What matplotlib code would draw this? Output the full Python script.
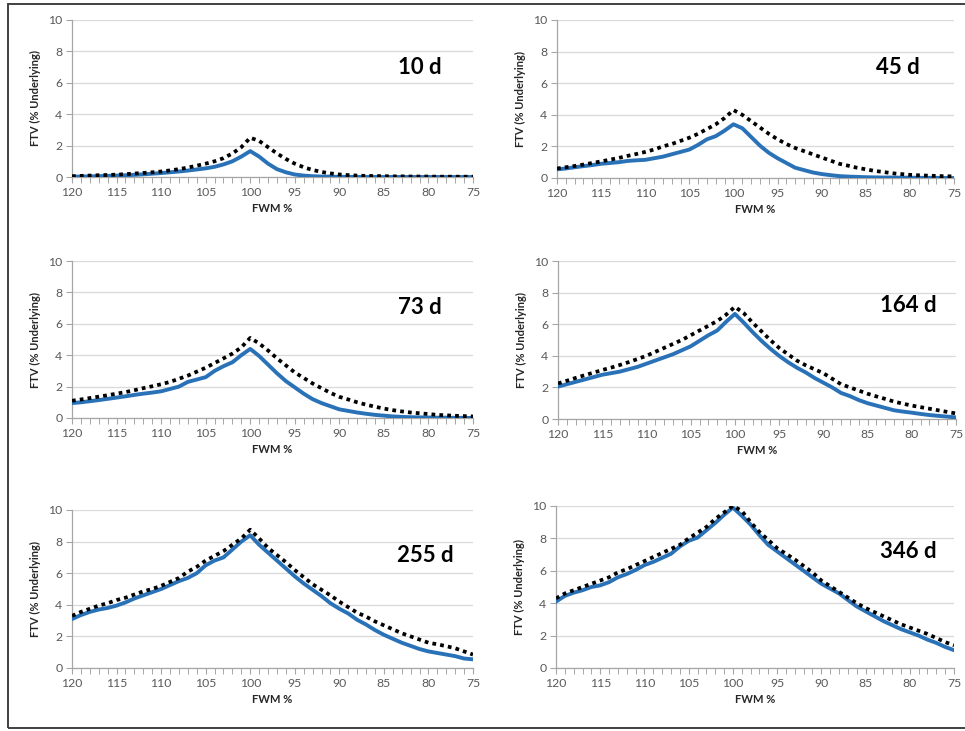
import matplotlib
matplotlib.use("Agg")
import matplotlib.pyplot as plt
import numpy as np
from matplotlib.patches import Rectangle
from matplotlib.ticker import MultipleLocator

plt.rcParams['font.family'] = ['Lato', 'DejaVu Sans']

fwm = list(range(120, 74, -1))  # 120 ... 75
xtick_labels = [120, 115, 110, 105, 100, 95, 90, 85, 80, 75]
yticks = [0, 2, 4, 6, 8, 10]
panel_titles = ["10 d", "45 d", "73 d", "164 d", "255 d", "346 d"]

d10_dotted = [0.05,0.07,0.09,0.11,0.13, 0.15,0.18,0.22,0.26,0.30, 0.35,0.42,0.50,0.60,0.72,
              0.85,1.0,1.2,1.5,1.9, 2.5, 2.3,1.9,1.5,1.15,0.85, 0.62,0.45,0.32,0.23,0.16,
              0.12,0.09,0.07,0.06,0.05, 0.04,0.04,0.03,0.03,0.03, 0.02,0.02,0.02,0.02,0.02]
d10_solid = [0.02,0.03,0.04,0.05,0.07, 0.09,0.11,0.14,0.17,0.21, 0.25,0.30,0.35,0.41,0.48,
             0.55,0.65,0.80,1.0,1.3, 1.65, 1.3,0.85,0.5,0.3,0.16, 0.09,0.05,0.03,0.02,0.01,
             0.01,0,0,0,0, 0,0,0,0,0, 0,0,0,0,0]

d45_dotted = [0.6,0.68,0.76,0.85,0.95, 1.05,1.16,1.27,1.4,1.52, 1.65,1.8,2.0,2.15,2.35,
              2.55,2.8,3.1,3.4,3.8, 4.3, 4.0,3.6,3.2,2.8,2.45, 2.15,1.9,1.7,1.5,1.3,
              1.1,0.9,0.78,0.65,0.55, 0.45,0.38,0.3,0.25,0.2, 0.17,0.15,0.13,0.11,0.1]
d45_solid = [0.55,0.6,0.68,0.75,0.82, 0.9,0.95,1.0,1.08,1.12, 1.15,1.25,1.35,1.5,1.65,
             1.8,2.1,2.45,2.65,3.0, 3.4, 3.15,2.6,2.05,1.6,1.25, 0.95,0.65,0.5,0.35,0.25,
             0.18,0.12,0.09,0.07,0.05, 0.04,0.03,0.03,0.02,0.02, 0.01,0.01,0.01,0,0]

d73_dotted = [1.1,1.18,1.27,1.36,1.45, 1.55,1.65,1.77,1.9,2.02, 2.15,2.3,2.5,2.7,2.95,
              3.2,3.5,3.8,4.1,4.5, 5.1, 4.75,4.3,3.8,3.35,2.9, 2.55,2.2,1.9,1.6,1.35,
              1.18,1.0,0.85,0.72,0.6, 0.5,0.42,0.35,0.3,0.25, 0.2,0.17,0.14,0.12,0.1]
d73_solid = [0.95,1.0,1.07,1.14,1.22, 1.3,1.38,1.47,1.55,1.62, 1.7,1.85,2.0,2.3,2.45,
             2.6,3.0,3.3,3.55,4.0, 4.4, 3.95,3.4,2.85,2.35,1.95, 1.55,1.2,0.95,0.75,0.55,
             0.45,0.35,0.27,0.2,0.15, 0.1,0.07,0.05,0.04,0.03, 0.02,0.02,0.01,0.01,0.0]

d164_dotted = [2.25,2.42,2.6,2.77,2.93, 3.1,3.25,3.42,3.6,3.8, 4.0,4.25,4.5,4.75,5.0,
               5.3,5.6,5.9,6.2,6.6, 7.1, 6.7,6.1,5.55,5.0,4.5, 4.1,3.7,3.4,3.15,2.9,
               2.55,2.2,2.0,1.8,1.6, 1.43,1.27,1.1,0.97,0.85, 0.75,0.65,0.55,0.45,0.35]
d164_solid = [2.05,2.2,2.35,2.5,2.65, 2.8,2.9,3.0,3.15,3.3, 3.5,3.7,3.9,4.1,4.35,
              4.6,4.95,5.3,5.6,6.15, 6.65, 6.1,5.5,4.95,4.45,4.0, 3.6,3.25,2.95,2.6,2.3,
              2.0,1.65,1.45,1.2,1.0, 0.85,0.7,0.55,0.47,0.4, 0.32,0.25,0.2,0.15,0.1]

d255_dotted = [3.3,3.55,3.75,3.95,4.1, 4.3,4.45,4.65,4.85,5.0, 5.2,5.45,5.7,6.1,6.4,
               6.8,7.1,7.4,7.8,8.2, 8.75, 8.2,7.6,7.15,6.7,6.2, 5.75,5.3,4.95,4.6,4.2,
               3.85,3.5,3.25,2.95,2.7, 2.45,2.2,2.0,1.8,1.6, 1.5,1.38,1.25,1.05,0.85]
d255_solid = [3.1,3.35,3.55,3.7,3.8, 3.95,4.15,4.4,4.6,4.8, 5.0,5.25,5.5,5.7,6.0,
              6.5,6.8,7.0,7.5,8.0, 8.4, 7.8,7.3,6.8,6.3,5.8, 5.35,4.95,4.55,4.1,3.75,
              3.45,3.05,2.75,2.4,2.1, 1.85,1.6,1.4,1.2,1.05, 0.95,0.85,0.75,0.6,0.55]

d346_dotted = [4.3,4.6,4.8,5.0,5.2, 5.4,5.6,5.9,6.1,6.35, 6.6,6.85,7.1,7.35,7.6,
               8.0,8.35,8.7,9.2,9.6, 10.0, 9.7,9.0,8.4,7.9,7.4, 7.05,6.7,6.3,5.9,5.4,
               5.05,4.7,4.35,4.0,3.7, 3.45,3.2,2.95,2.7,2.5, 2.3,2.1,1.85,1.6,1.4]
d346_solid = [4.1,4.45,4.65,4.8,5.0, 5.1,5.3,5.6,5.8,6.05, 6.35,6.55,6.8,7.05,7.5,
              7.85,8.05,8.5,8.95,9.45, 9.9, 9.4,8.85,8.2,7.6,7.2, 6.8,6.4,6.0,5.6,5.2,
              4.9,4.6,4.2,3.8,3.5, 3.2,2.9,2.65,2.4,2.2, 2.0,1.75,1.55,1.3,1.1]

solid_series = [d10_solid, d45_solid, d73_solid, d164_solid, d255_solid, d346_solid]
dotted_series = [d10_dotted, d45_dotted, d73_dotted, d164_dotted, d255_dotted, d346_dotted]

W, H = 965, 731
fig = plt.figure(figsize=(W / 100, H / 100), dpi=100)

# axes boxes in pixels: (x_left, x_right, y_top, y_bottom)
boxes = [(72, 473, 20, 177), (557, 954, 20, 178),
         (72, 473, 261, 418), (558, 956, 261, 419),
         (72, 473, 510, 668), (556, 954, 506, 668)]
title_pos = [(420, 68), (898, 68), (420, 308), (908, 305), (425, 555), (908, 552)]

grid_c = '#d9d9d9'
axis_c = '#a6a6a6'
text_c = '#595959'
blue = '#2a72b8'

for i, (xl, xr, yt, yb) in enumerate(boxes):
    ax = fig.add_axes([xl / W, 1 - yb / H, (xr - xl) / W, (yb - yt) / H])
    ax.plot(fwm, solid_series[i], color=blue, lw=2.8, solid_joinstyle='round', zorder=3)
    ax.plot(fwm, dotted_series[i], color='black', lw=2.7, linestyle=(0, (1, 1.1)), zorder=4)
    ax.set_xlim(120, 75)
    ax.set_ylim(0, 10)
    ax.set_yticks(yticks)
    ax.set_xticks(xtick_labels)
    ax.set_xticklabels([str(v) for v in xtick_labels])
    ax.xaxis.set_minor_locator(MultipleLocator(1))
    for s in ['top', 'right']:
        ax.spines[s].set_visible(False)
    for s in ['left', 'bottom']:
        ax.spines[s].set_color(axis_c)
        ax.spines[s].set_linewidth(0.9)
    ax.grid(axis='y', color=grid_c, lw=0.9)
    ax.set_axisbelow(True)
    ax.tick_params(axis='both', which='both', colors=axis_c, labelcolor=text_c, labelsize=8.8)
    ax.tick_params(axis='x', which='major', length=4, width=0.8, pad=3)
    ax.tick_params(axis='x', which='minor', length=4, width=0.7)
    ax.tick_params(axis='y', which='major', length=4, width=0.8, pad=3)
    ax.set_ylabel('FTV (% Underlying)', fontsize=8, fontweight='bold', color='#262626', labelpad=5)
    ax.set_xlabel('FWM %', fontsize=8, fontweight='bold', color='#262626', labelpad=4)
    tx, ty = title_pos[i]
    fig.text(tx / W, 1 - ty / H, panel_titles[i], fontsize=16, fontweight='bold',
             color='black', ha='center', va='center')

fig.patches.append(Rectangle((8 / W, 1 - 728 / H), (W + 10 - 8) / W, (728 - 4) / H,
                             transform=fig.transFigure, fill=False,
                             edgecolor='#404040', lw=1.4, clip_on=False))

fig.savefig('out.png', dpi=100, facecolor='white')
